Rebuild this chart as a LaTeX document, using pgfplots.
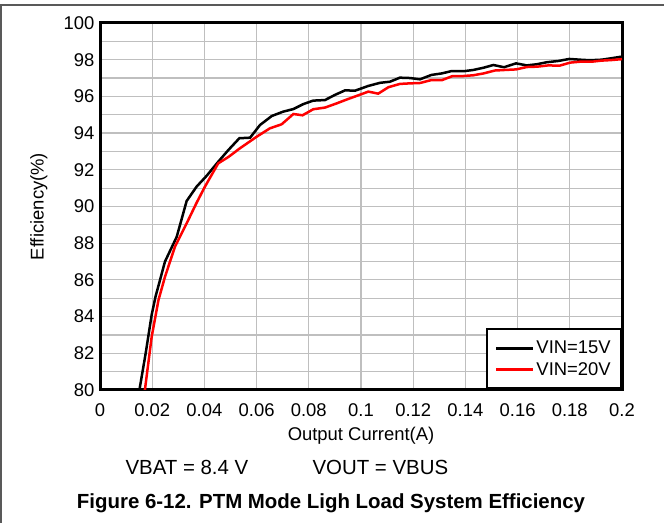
\documentclass[border=0pt]{standalone}
\usepackage{pgfplots}
\pgfplotsset{compat=1.18}
\usepackage{fontspec}
\setmainfont{Liberation Sans}
\begin{document}
\begin{tikzpicture}[x=1bp,y=1bp]
\useasboundingbox (0,0) rectangle (664,523);
\draw[line width=1.2bp, black!65] (0,518) -- (664,518);
\draw[line width=1.2bp, black!65] (1,518) -- (1,0);
\begin{axis}[
  at={(100bp,133bp)}, anchor=south west,
  scale only axis, width=522bp, height=367bp,
  xmin=0, xmax=0.2, ymin=80, ymax=100,
  xtick={0,0.02,0.04,0.06,0.08,0.1,0.12,0.14,0.16,0.18,0.2},
  xticklabels={0,0.02,0.04,0.06,0.08,0.1,0.12,0.14,0.16,0.18,0.2},
  ytick={80,82,84,86,88,90,92,94,96,98,100},
  minor ytick={81,83,85,87,89,91,93,95,97,99},
  grid=both,
  major grid style={black!25, line width=1.2bp},
  minor grid style={black!25, line width=1.2bp},
  major tick length=0pt, minor tick length=0pt,
  axis line style={line width=3bp},
  /pgf/number format/assume math mode=true,
  tick label style={font=\fontsize{18.5}{21}\selectfont},
  yticklabel style={xshift=-2bp},
  xticklabel style={yshift=-10bp},
  xlabel={Output Current(A)},
  ylabel={Efficiency(\%)},
  label style={font=\fontsize{18.5}{21}\selectfont},
  xlabel style={at={(axis description cs:0.5,-0.1253)}, anchor=center},
  ylabel style={at={(axis description cs:-0.1170,0.5)}, anchor=center, rotate=0},
  legend style={at={(1,0)}, anchor=south east, draw=black, line width=2.5bp,
    font=\fontsize{18.5}{21}\selectfont, inner xsep=8bp, inner ysep=10bp, row sep=3bp,
    legend cell align=left},
  legend image code/.code={\draw[#1] (0bp,0bp) -- (37bp,0bp);},
]
\addplot[black, line width=2.5bp] coordinates {
(0.0151,80) (0.0175,82.0) (0.0198,84.1) (0.0213,85.1) (0.0249,87.0) (0.0294,88.35)
(0.0332,90.3) (0.037,91.08) (0.0409,91.68) (0.0453,92.44) (0.0492,93.08) (0.0534,93.72)
(0.0575,93.75) (0.0613,94.44) (0.0658,94.93) (0.0702,95.17) (0.0741,95.31) (0.0779,95.58)
(0.0817,95.77) (0.0862,95.8) (0.09,96.08) (0.0939,96.33) (0.0977,96.31) (0.1028,96.57)
(0.1073,96.74) (0.1111,96.8) (0.1149,97.02) (0.1188,97.0) (0.1226,96.93) (0.127,97.17)
(0.1309,97.25) (0.1347,97.38) (0.1392,97.37) (0.143,97.44) (0.1469,97.56) (0.1507,97.71)
(0.1548,97.59) (0.1594,97.8) (0.1635,97.69) (0.1673,97.75) (0.1711,97.86) (0.1756,97.93)
(0.1798,98.04) (0.1839,98.0) (0.1877,97.97) (0.1922,98.0) (0.196,98.08) (0.2,98.17)
};
\addlegendentry{VIN=15V}
\addplot[red, line width=2.5bp] coordinates {
(0.0172,80) (0.0198,82.9) (0.0224,84.9) (0.0249,86.17) (0.0287,87.8) (0.0332,89.08)
(0.037,90.2) (0.0402,91.08) (0.0453,92.35) (0.0492,92.7) (0.0536,93.17) (0.06,93.8)
(0.0651,94.26) (0.0696,94.48) (0.0741,95.04) (0.0776,94.97) (0.0817,95.3) (0.0862,95.39)
(0.0907,95.62) (0.0951,95.86) (0.099,96.06) (0.1028,96.26) (0.1066,96.15) (0.1105,96.5)
(0.1149,96.68) (0.1188,96.71) (0.1226,96.73) (0.127,96.89) (0.1309,96.88) (0.1351,97.11)
(0.1392,97.11) (0.143,97.15) (0.1469,97.25) (0.1513,97.41) (0.1552,97.44) (0.1594,97.47)
(0.1635,97.6) (0.1675,97.62) (0.1718,97.69) (0.176,97.67) (0.1801,97.84) (0.1839,97.89)
(0.1884,97.89) (0.1922,97.95) (0.196,97.98) (0.2,98.03)
};
\addlegendentry{VIN=20V}
\end{axis}
\node[font=\fontsize{20.5}{23}\selectfont, anchor=west] at (122,56) {VBAT = 8.4 V};
\node[font=\fontsize{20.5}{23}\selectfont, anchor=west] at (309,56) {VOUT = VBUS};
\node[font=\fontsize{20.5}{23}\selectfont\bfseries] at (331,20) {Figure 6-12. PTM Mode Ligh Load System Efficiency};
\end{tikzpicture}
\end{document}
